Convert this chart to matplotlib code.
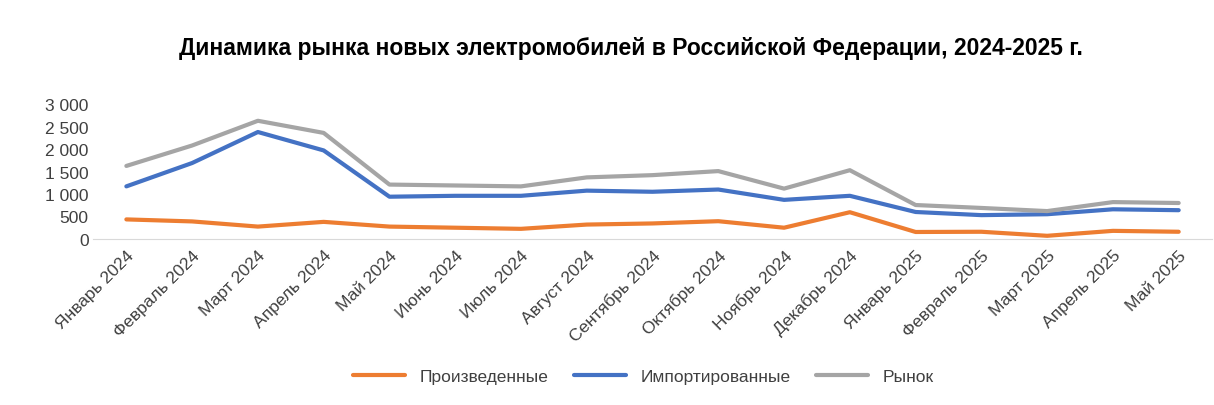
import matplotlib
matplotlib.use("Agg")
import matplotlib.pyplot as plt
from matplotlib.ticker import FuncFormatter

months = ["Январь 2024","Февраль 2024","Март 2024","Апрель 2024","Май 2024","Июнь 2024",
          "Июль 2024","Август 2024","Сентябрь 2024","Октябрь 2024","Ноябрь 2024","Декабрь 2024",
          "Январь 2025","Февраль 2025","Март 2025","Апрель 2025","Май 2025"]
produced = [435,390,275,380,275,250,225,320,345,395,250,595,155,160,70,180,160]
imported = [1170,1690,2380,1970,940,960,960,1075,1050,1100,870,960,600,530,550,660,640]
market = [1625,2080,2630,2360,1210,1190,1170,1370,1420,1510,1120,1530,755,690,620,820,800]

plt.rcParams["font.family"] = "Liberation Sans"
fig = plt.figure(figsize=(12.14,4.06), dpi=100)
ax = fig.add_axes([0.077,0.409,0.921,0.332])
x = range(len(months))
ax.plot(x, produced, color="#ED7D31", lw=3, label="Произведенные", solid_capstyle="round")
ax.plot(x, imported, color="#4472C4", lw=3, label="Импортированные", solid_capstyle="round")
ax.plot(x, market, color="#A5A5A5", lw=3, label="Рынок", solid_capstyle="round")
ax.set_xlim(-0.5, len(months)-0.5)
ax.set_ylim(0, 3000)
ax.set_yticks(range(0,3001,500))
ax.yaxis.set_major_formatter(FuncFormatter(lambda v,p: f"{int(v):,}".replace(",", " ")))
ax.set_xticks(list(x))
ax.set_xticklabels(months, rotation=45, ha="right", rotation_mode="anchor", fontsize=12.5, color="#404040")
ax.tick_params(axis="y", labelsize=12.5, colors="#404040", length=0)
ax.tick_params(axis="x", length=0, pad=6)
for s in ["top","right","left"]:
    ax.spines[s].set_visible(False)
ax.spines["bottom"].set_color("#D9D9D9")
fig.suptitle("Динамика рынка новых электромобилей в Российской Федерации, 2024-2025 г.",
             fontsize=16.5, fontweight="bold", y=0.91, x=0.52)
fig.legend(loc="center", bbox_to_anchor=(0.53,0.07), ncol=3, frameon=False, fontsize=12.5,
           handlelength=3, columnspacing=1.5, labelcolor="#404040")
fig.savefig("out.png", dpi=100)
